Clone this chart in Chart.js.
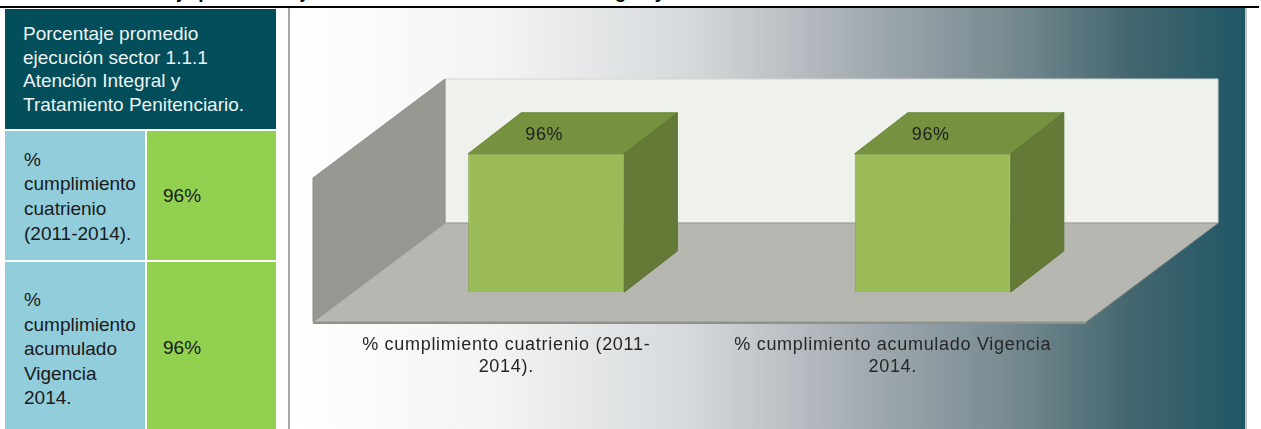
<!DOCTYPE html>
<html lang="es">
<head>
<meta charset="utf-8">
<title>Porcentaje promedio ejecución sector 1.1.1</title>
<script src="https://cdn.jsdelivr.net/npm/chart.js@4.4.1/dist/chart.umd.min.js"></script>
<style>
  html, body { margin: 0; padding: 0; }
  body { width: 1261px; height: 429px; overflow: hidden; position: relative; background: #fff;
         font-family: 'Liberation Sans', Arial, sans-serif; }
  #titulo { position: absolute; left: 4px; top: -19px; font-weight: bold; font-size: 19px; white-space: nowrap; color: #000; }
  #linea { position: absolute; left: 0; top: 6px; width: 1259px; height: 2px; background: #000; }
  .celda { position: absolute; box-sizing: border-box; font-size: 19px; display: flex; align-items: center; }
  #encabezado { left: 5px; top: 9px; width: 271px; height: 120px; background: #024e5a; color: #eef3f4;
                padding: 13px 0 0 18px; line-height: 23.5px; align-items: flex-start; }
  .nombre { left: 5px; width: 140px; background: #92cddc; color: #1a1a1a; padding-left: 19px; line-height: 24.6px; }
  .valor { left: 147px; width: 129px; background: #92d050; color: #1a1a1a; padding-left: 16px; }
  #marco { position: absolute; left: 288px; top: 8px; width: 955px; height: 421px;
           border-left: 2px solid #a6a6a6; border-right: 2px solid #c4c4c4;
           background: linear-gradient(to right, #ffffff 0%, #f2f3f3 22%, #d5d9db 42%, #a9b0b6 58%, #74898f 76%, #44666f 88%, #1f5766 100%); }
  canvas { display: block; }
</style>
</head>
<body>
<div id="titulo">Gráfica 1. Porcentaje promedio ejecución Sector 1.1.1 Atención Integral y Tratamiento Penitenciario.</div>
<div id="linea"></div>
<div id="encabezado" class="celda"></div>
<div id="tabla"></div>
<div id="marco"><canvas id="grafica" width="955" height="421"></canvas></div>

<script>
// datos de la tabla
const encabezado = ['Porcentaje promedio', 'ejecución sector 1.1.1', 'Atención Integral y', 'Tratamiento Penitenciario.'];
const filasTabla = [
    ['%', 'cumplimiento', 'cuatrienio', '(2011-2014).'],
    ['%', 'cumplimiento', 'acumulado', 'Vigencia', '2014.']
];

// datos de la grafica
const categorias = [
    ['% cumplimiento cuatrienio (2011-', '2014).'],
    ['% cumplimiento acumulado Vigencia', '2014.']
];
const valores = [96, 96];
const ejeMin = 0;
const ejeMax = 100;

// tabla de la izquierda
const filasTop = [131, 262];
const filasAlto = [129, 172];
document.getElementById('encabezado').innerHTML = encabezado.join('<br>');
const tabla = document.getElementById('tabla');
filasTabla.forEach((lineas, i) => {
    const nombre = document.createElement('div');
    nombre.className = 'celda nombre';
    nombre.style.top = filasTop[i] + 'px';
    nombre.style.height = filasAlto[i] + 'px';
    nombre.innerHTML = '<div style="margin-top:3px">' + lineas.join('<br>') + '</div>';
    const valor = document.createElement('div');
    valor.className = 'celda valor';
    valor.style.top = filasTop[i] + 'px';
    valor.style.height = filasAlto[i] + 'px';
    valor.innerText = valores[i] + '%';
    tabla.append(nombre, valor);
});

// efecto 3D: desplazamientos de las caras
const prof = { frenteX: -40, frenteY: 30, fondoX: 92, fondoY: -69, barraX: 53, barraY: -41 };

const poligono = (ctx, pts, relleno, borde) => {
    ctx.beginPath();
    ctx.moveTo(pts[0][0], pts[0][1]);
    pts.slice(1).forEach(p => ctx.lineTo(p[0], p[1]));
    ctx.closePath();
    ctx.fillStyle = relleno;
    ctx.fill();
    if (borde) {
        ctx.strokeStyle = borde;
        ctx.lineWidth = 1;
        ctx.stroke();
    }
};

const cubo3d = {
    id: 'cubo3d',
    beforeDraw(chart) {
        chart.ctx.letterSpacing = '0.7px';
    },
    beforeDatasetsDraw(chart) {
        const { ctx, chartArea: a, scales: { y } } = chart;
        const base = y.getPixelForValue(ejeMin);
        const tope = y.getPixelForValue(ejeMax);
        ctx.save();
        // pared del fondo
        poligono(ctx, [
            [a.left + prof.fondoX, tope + prof.fondoY], [a.right + prof.fondoX, tope + prof.fondoY],
            [a.right + prof.fondoX, base + prof.fondoY], [a.left + prof.fondoX, base + prof.fondoY]
        ], '#eff2ec', '#d3d6cf');
        // pared lateral
        poligono(ctx, [
            [a.left + prof.frenteX, tope + prof.frenteY], [a.left + prof.fondoX, tope + prof.fondoY],
            [a.left + prof.fondoX, base + prof.fondoY], [a.left + prof.frenteX, base + prof.frenteY]
        ], '#969892', '#8a8c86');
        // piso
        poligono(ctx, [
            [a.left + prof.frenteX, base + prof.frenteY], [a.left + prof.fondoX, base + prof.fondoY],
            [a.right + prof.fondoX, base + prof.fondoY], [a.right + prof.frenteX, base + prof.frenteY]
        ], '#b5b7b0', '#94968f');
        ctx.fillStyle = '#8f918b';
        ctx.fillRect(a.left + prof.frenteX, base + prof.frenteY, a.right - a.left, 2);
        ctx.restore();
    },
    afterDatasetsDraw(chart) {
        const { ctx } = chart;
        const meta = chart.getDatasetMeta(0);
        ctx.save();
        meta.data.forEach((barra, i) => {
            const { x, y, base, width } = barra.getProps(['x', 'y', 'base', 'width'], true);
            const l = x - width / 2;
            const r = x + width / 2;
            poligono(ctx, [[l, y], [l + prof.barraX, y + prof.barraY], [r + prof.barraX, y + prof.barraY], [r, y]], '#76913f', '#6c8838');
            poligono(ctx, [[r, y], [r + prof.barraX, y + prof.barraY], [r + prof.barraX, base + prof.barraY], [r, base]], '#657a37', '#5e7233');
            ctx.fillStyle = '#1e1e1e';
            ctx.font = '18px "Liberation Sans", Arial, sans-serif';
            ctx.textAlign = 'center';
            ctx.textBaseline = 'middle';
            ctx.fillText(valores[i] + '%', x - 2, y + prof.barraY / 2 + 2);
        });
        ctx.restore();
    }
};

const ctx = document.getElementById('grafica');
const myChart = new Chart(ctx, {
    type: 'bar',
    data: {
        labels: categorias,
        datasets: [{
            data: valores,
            backgroundColor: '#9bbb59',
            borderColor: '#82a343',
            borderWidth: 1,
            barPercentage: 0.404,
            categoryPercentage: 1
        }]
    },
    options: {
        responsive: false,
        animation: false,
        devicePixelRatio: 1,
        layout: { padding: { left: 63, right: 119, top: 140, bottom: 0 } },
        plugins: {
            legend: { display: false },
            tooltip: { enabled: false }
        },
        scales: {
            x: {
                grid: { display: false, drawTicks: false },
                border: { display: false },
                ticks: {
                    labelOffset: -40,
                    padding: 42,
                    maxRotation: 0,
                    autoSkip: false,
                    color: '#262626',
                    font: { family: 'Liberation Sans', size: 18, lineHeight: 1.22 }
                },
                afterFit: (escala) => {
                    escala.height = 137;
                    escala.paddingLeft = 0;
                    escala.paddingRight = 0;
                }
            },
            y: { display: false, min: ejeMin, max: ejeMax }
        }
    },
    plugins: [cubo3d]
});
</script>
</body>
</html>
